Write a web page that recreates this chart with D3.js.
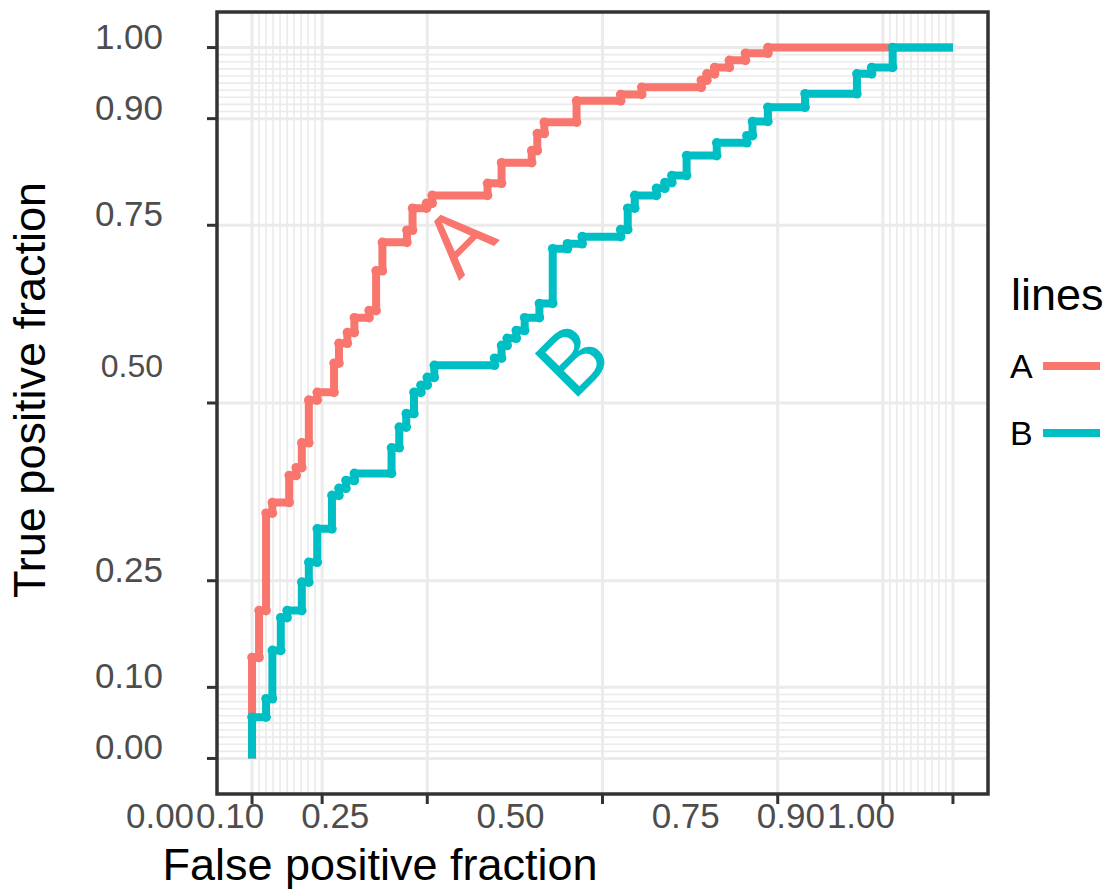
<!DOCTYPE html>
<html>
<head>
<meta charset="utf-8">
<script src="https://cdn.jsdelivr.net/npm/d3@7"></script>
<style>
  body { margin: 0; background: #fff; }
  text { font-family: "Liberation Sans", Arial, sans-serif; }
</style>
</head>
<body>
<div id="chart"></div>
<script>
// ROC corner points (false positive fraction, true positive fraction)
const fpfA = [0, 0.010, 0.020, 0.029, 0.053, 0.063, 0.071, 0.081, 0.093, 0.117, 0.124, 0.136, 0.146, 0.167, 0.177, 0.186, 0.221, 0.229, 0.249, 0.257, 0.336, 0.356, 0.399, 0.407, 0.417, 0.463, 0.526, 0.556, 0.641, 0.649, 0.660, 0.681, 0.704, 0.736, 1];
const tpfA = [0, 0.142, 0.208, 0.345, 0.360, 0.398, 0.409, 0.444, 0.504, 0.515, 0.556, 0.584, 0.599, 0.620, 0.630, 0.686, 0.726, 0.743, 0.774, 0.781, 0.792, 0.809, 0.838, 0.855, 0.879, 0.895, 0.925, 0.934, 0.944, 0.954, 0.963, 0.972, 0.982, 0.992, 1];
const fpfB = [0, 0.020, 0.029, 0.041, 0.050, 0.071, 0.081, 0.093, 0.114, 0.124, 0.134, 0.146, 0.199, 0.210, 0.220, 0.231, 0.241, 0.250, 0.260, 0.346, 0.356, 0.364, 0.377, 0.389, 0.410, 0.429, 0.450, 0.471, 0.526, 0.536, 0.546, 0.577, 0.589, 0.599, 0.620, 0.663, 0.706, 0.714, 0.736, 0.789, 0.863, 0.884, 0.914, 1];
const tpfB = [0, 0.058, 0.084, 0.152, 0.198, 0.208, 0.248, 0.276, 0.323, 0.370, 0.380, 0.391, 0.401, 0.437, 0.466, 0.485, 0.515, 0.525, 0.536, 0.553, 0.563, 0.581, 0.591, 0.602, 0.620, 0.640, 0.717, 0.724, 0.734, 0.744, 0.774, 0.792, 0.802, 0.810, 0.820, 0.848, 0.866, 0.876, 0.896, 0.916, 0.935, 0.963, 0.972, 1];

const lineNames = ["A", "B"];
const majorBreaks = [0, 0.1, 0.25, 0.5, 0.75, 0.9, 1];
const majorLabels = ["0.00", "0.10", "0.25", "0.50", "0.75", "0.90", "1.00"];
const minorBreaks = [0.01, 0.02, 0.03, 0.04, 0.05, 0.06, 0.07, 0.08, 0.09, 0.91, 0.92, 0.93, 0.94, 0.95, 0.96, 0.97, 0.98, 0.99];

const width = 1109, height = 890;
const panel = {left: 217, right: 988, top: 12, bottom: 794};

const svg = d3.select("#chart").append("svg")
    .attr("width", width)
    .attr("height", height);

const x = d3.scaleLinear().domain([-0.05, 1.05]).range([panel.left, panel.right]);
const y = d3.scaleLinear().domain([-0.05, 1.05]).range([panel.bottom, panel.top]);

const color = d3.scaleOrdinal().domain(lineNames).range(["#F8766D", "#00BFC4"]);

// grid
const grid = svg.append("g");
grid.selectAll(".minx").data(minorBreaks).join("line")
    .attr("x1", d => x(d)).attr("x2", d => x(d))
    .attr("y1", panel.top).attr("y2", panel.bottom)
    .attr("stroke", "#ebebeb").attr("stroke-width", 1.6);
grid.selectAll(".miny").data(minorBreaks).join("line")
    .attr("x1", panel.left).attr("x2", panel.right)
    .attr("y1", d => y(d)).attr("y2", d => y(d))
    .attr("stroke", "#ebebeb").attr("stroke-width", 1.6);
grid.selectAll(".majx").data(majorBreaks).join("line")
    .attr("x1", d => x(d)).attr("x2", d => x(d))
    .attr("y1", panel.top).attr("y2", panel.bottom)
    .attr("stroke", "#ebebeb").attr("stroke-width", 3);
grid.selectAll(".majy").data(majorBreaks).join("line")
    .attr("x1", panel.left).attr("x2", panel.right)
    .attr("y1", d => y(d)).attr("y2", d => y(d))
    .attr("stroke", "#ebebeb").attr("stroke-width", 3);

// curves
const series = [
    {name: "A", pts: fpfA.map((f, i) => [f, tpfA[i]])},
    {name: "B", pts: fpfB.map((f, i) => [f, tpfB[i]])}
];

const line = d3.line()
    .x(d => x(d[0]))
    .y(d => y(d[1]))
    .curve(d3.curveStepBefore);

series.forEach(s => {
    svg.append("path")
        .attr("d", line(s.pts))
        .attr("fill", "none")
        .attr("stroke", color(s.name))
        .attr("stroke-width", 8)
        .attr("stroke-linejoin", "round");
    // little points on the step corners (not on the two ends)
    const corners = [];
    s.pts.forEach((p, i) => {
        if (i > 0) corners.push([s.pts[i - 1][0], p[1]]);
        if (i > 0 && i < s.pts.length - 1) corners.push(p);
    });
    svg.append("g").selectAll("circle").data(corners).join("circle")
        .attr("cx", d => x(d[0]))
        .attr("cy", d => y(d[1]))
        .attr("r", 4.8)
        .attr("fill", color(s.name));
});

// direct labels
svg.append("text")
    .attr("transform", "translate(459,281) rotate(-45)")
    .attr("font-size", 87)
    .attr("fill", color("A"))
    .text("A");
svg.append("text")
    .attr("transform", "translate(573,402) rotate(-45)")
    .attr("font-size", 89)
    .attr("fill", color("B"))
    .text("B");

// panel border
svg.append("rect")
    .attr("x", panel.left).attr("y", panel.top)
    .attr("width", panel.right - panel.left)
    .attr("height", panel.bottom - panel.top)
    .attr("fill", "none")
    .attr("stroke", "#333333")
    .attr("stroke-width", 3.5);

// y axis ticks and labels
svg.selectAll(".yt").data(majorBreaks).join("line")
    .attr("x1", panel.left - 10).attr("x2", panel.left)
    .attr("y1", d => y(d)).attr("y2", d => y(d))
    .attr("stroke", "#333333").attr("stroke-width", 3);
svg.selectAll(".yl").data(majorBreaks).join("text")
    .attr("x", 163)
    .attr("y", d => y(d) + (d === 0.5 ? -26 : 1))
    .attr("text-anchor", "end")
    .attr("font-size", d => d === 0.5 ? 32 : 35)
    .attr("fill", "#4d4d4d")
    .text((d, i) => majorLabels[i]);

// x axis ticks and labels
svg.selectAll(".xt").data(majorBreaks).join("line")
    .attr("x1", d => x(d)).attr("x2", d => x(d))
    .attr("y1", panel.bottom).attr("y2", panel.bottom + 10)
    .attr("stroke", "#333333").attr("stroke-width", 3);
svg.selectAll(".xl").data(majorBreaks).join("text")
    .attr("x", d => x(d) - 92)
    .attr("y", 828)
    .attr("text-anchor", "middle")
    .attr("font-size", 35)
    .attr("fill", "#4d4d4d")
    .text((d, i) => majorLabels[i]);

// axis titles
svg.append("text")
    .attr("x", 380).attr("y", 880)
    .attr("text-anchor", "middle")
    .attr("font-size", 45)
    .attr("fill", "black")
    .text("False positive fraction");
svg.append("text")
    .attr("transform", "translate(45,390) rotate(-90)")
    .attr("text-anchor", "middle")
    .attr("font-size", 45)
    .attr("fill", "black")
    .text("True positive fraction");

// legend
svg.append("text")
    .attr("x", 1011).attr("y", 310)
    .attr("font-size", 45)
    .attr("fill", "black")
    .text("lines");
const leg = svg.selectAll(".leg").data(lineNames).join("g")
    .attr("transform", (d, i) => `translate(0, ${366 + i * 67})`);
leg.append("line")
    .attr("x1", 1043).attr("x2", 1100)
    .attr("stroke", d => color(d))
    .attr("stroke-width", 8);
leg.append("text")
    .attr("x", 1010).attr("y", 12)
    .attr("font-size", 34)
    .attr("fill", "black")
    .text(d => d);
</script>
</body>
</html>
